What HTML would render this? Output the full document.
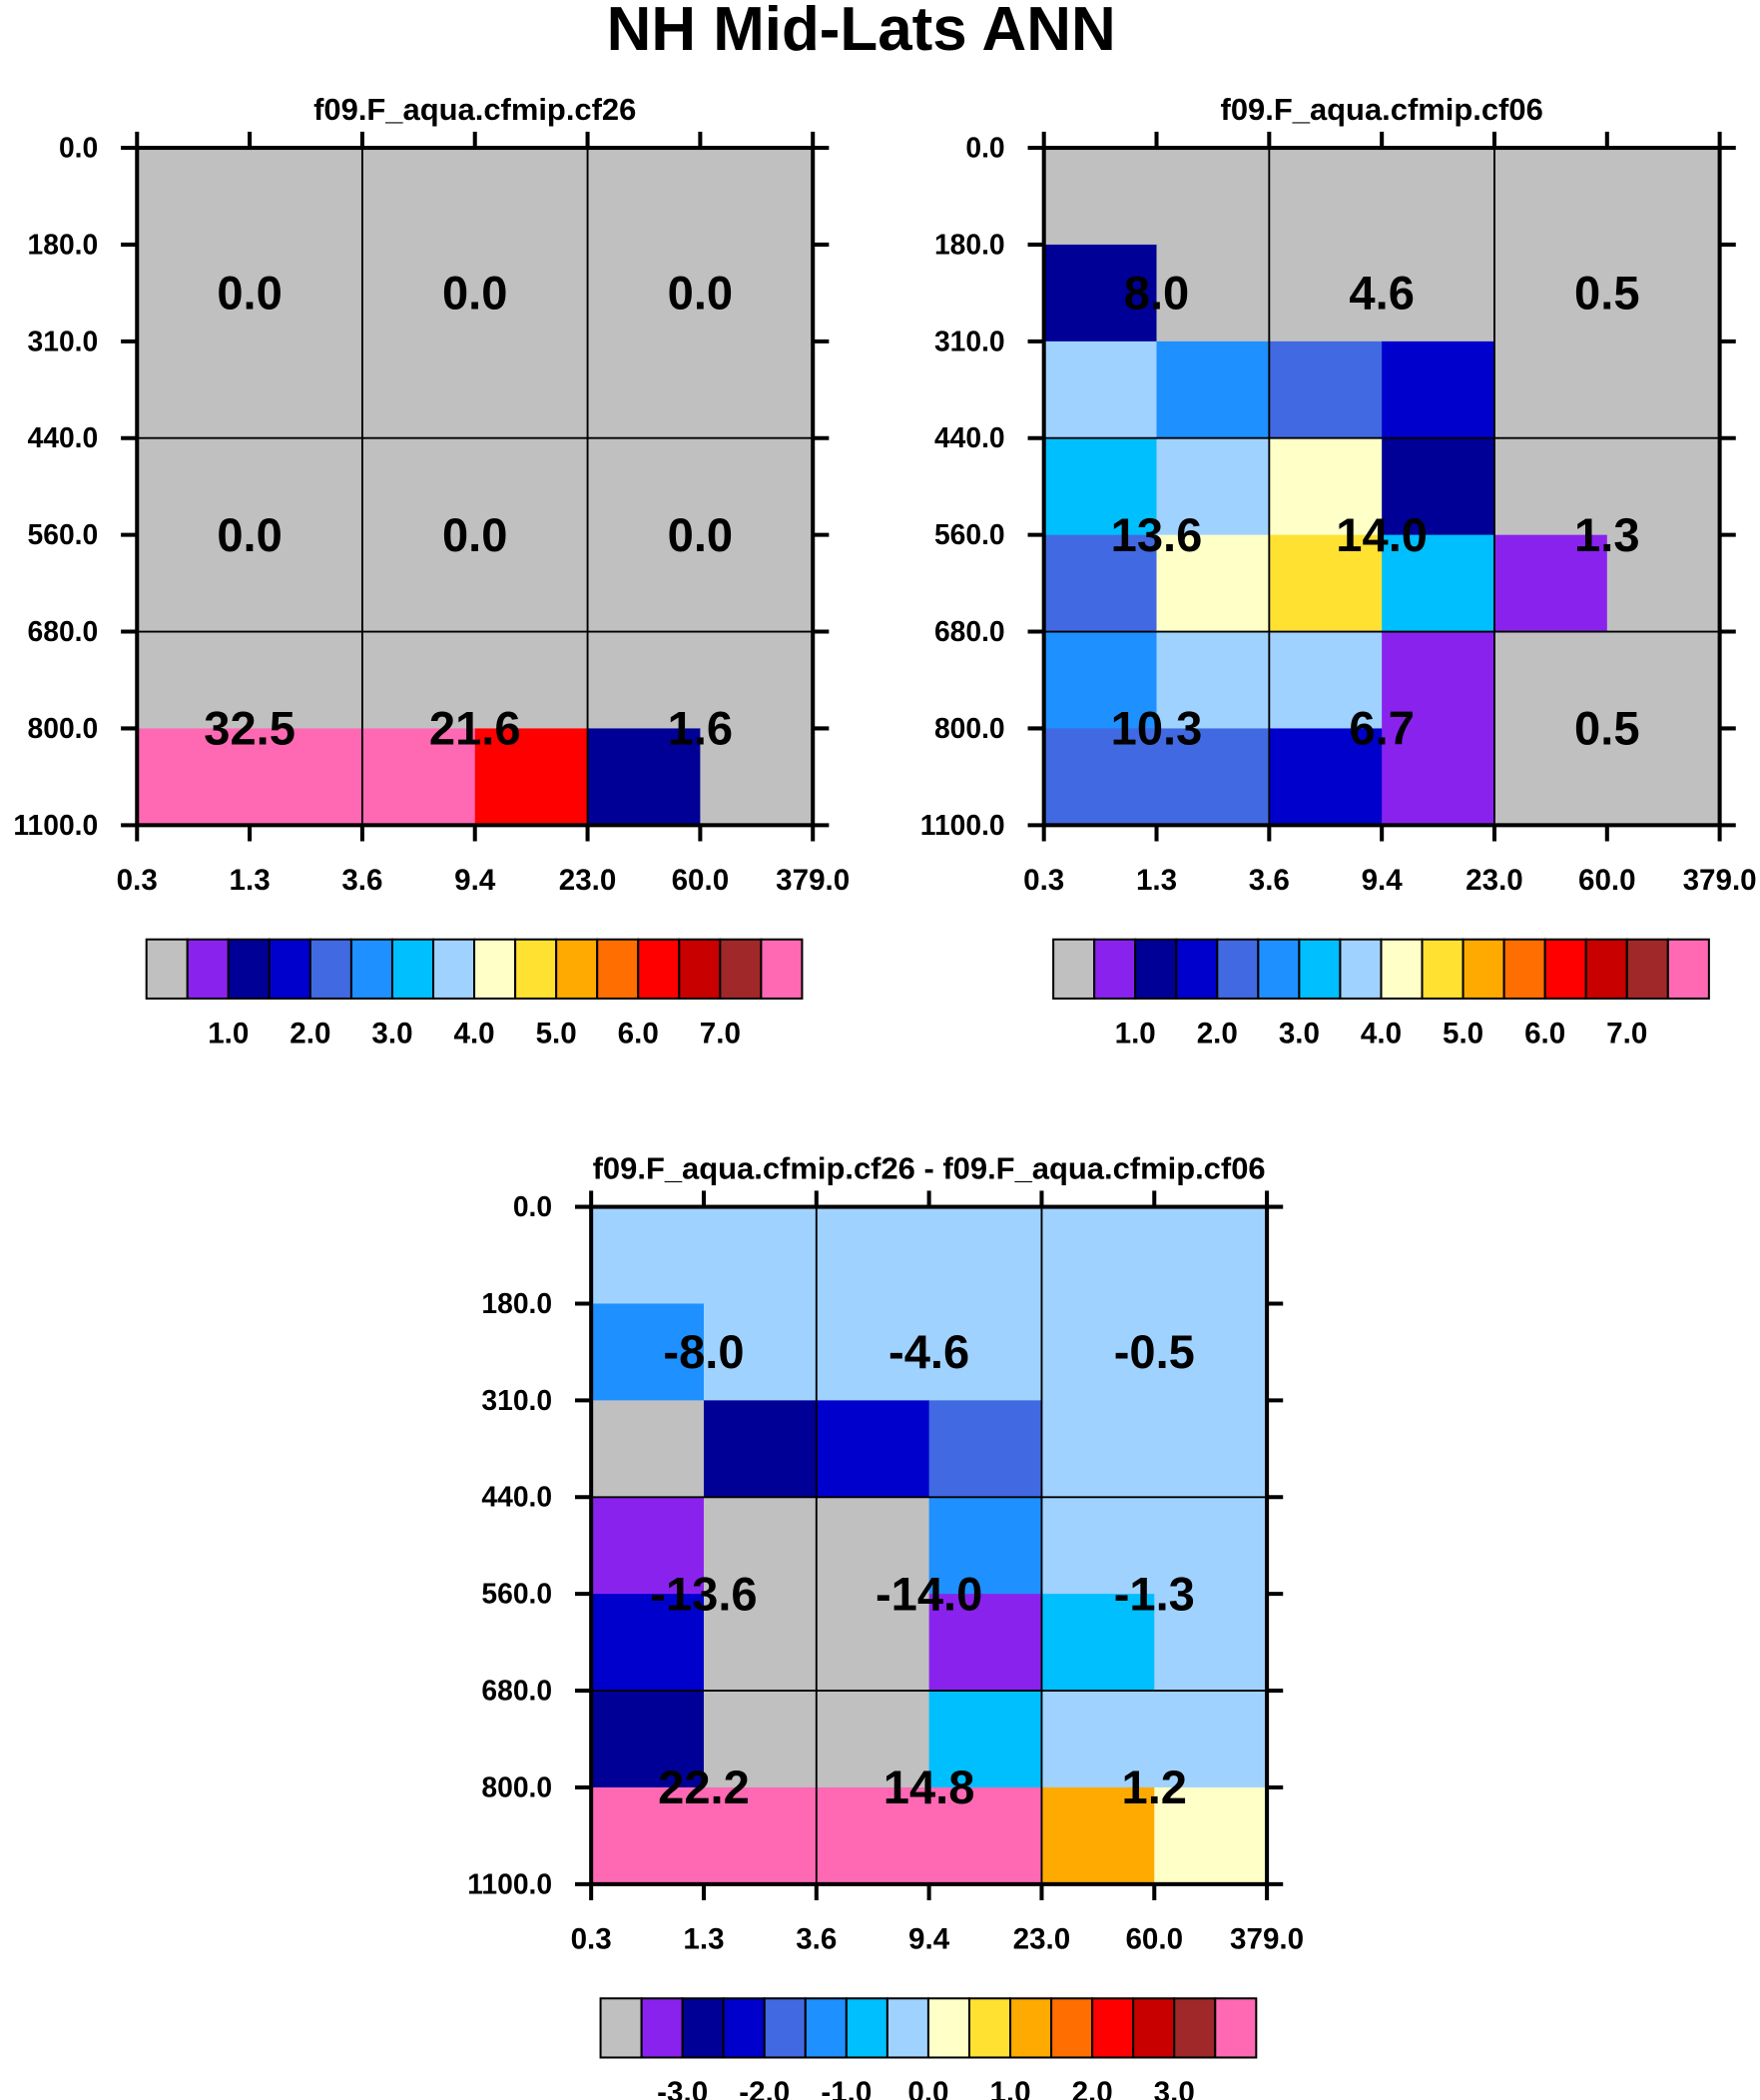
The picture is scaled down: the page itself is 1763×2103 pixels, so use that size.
<!DOCTYPE html>
<html><head><meta charset="utf-8"><style>
html,body{margin:0;padding:0;background:#fff;}
svg{display:block;font-family:"Liberation Sans",sans-serif;font-weight:bold;}
</style></head><body>
<svg id="fig" width="1763" height="2103" viewBox="0 0 1310 1562.6" preserveAspectRatio="none" xmlns="http://www.w3.org/2000/svg">
<text x="641" y="37" text-anchor="middle" font-size="46">NH Mid-Lats ANN</text>
</svg>
<script>
const yLabels=["0.0","180.0","310.0","440.0","560.0","680.0","800.0","1100.0"];
const xLabels=["0.3","1.3","3.6","9.4","23.0","60.0","379.0"];
const palette=["#c0c0c0","#8a22ee","#000096","#0000cd","#4169e1","#1e90ff","#00bfff","#a0d2ff","#ffffc8","#ffe132","#ffaa00","#ff6e00","#ff0000","#c80000","#a02828","#ff69b4"];
const barLabelsA=["1.0","2.0","3.0","4.0","5.0","6.0","7.0"];
const barLabelsB=["-3.0","-2.0","-1.0","0.0","1.0","2.0","3.0"];
const vals1=[[0,0,0,0,0,0],[0,0,0,0,0,0],[0,0,0,0,0,0],[0,0,0,0,0,0],[0,0,0,0,0,0],[0,0,0,0,0,0],[8,8,8,6.2,1.2,0]];
const vals2=[[0,0,0,0,0,0],[1.2,0,0,0,0,0],[3.7,2.7,2.2,1.7,0,0],[3.2,3.7,4.2,1.2,0,0],[2.2,4.2,4.7,3.2,0.7,0],[2.7,3.7,3.7,0.7,0,0],[2.2,2.2,1.7,0.7,0,0]];
const vals3=[[-0.3,-0.3,-0.3,-0.3,-0.3,-0.3],[-1.3,-0.3,-0.3,-0.3,-0.3,-0.3],[-3.8,-2.8,-2.3,-1.8,-0.3,-0.3],[-3.3,-3.8,-3.8,-1.3,-0.3,-0.3],[-2.3,-3.8,-3.8,-3.3,-0.8,-0.3],[-2.8,-3.8,-3.8,-0.8,-0.3,-0.3],[4,4,4,4,1.2,0.2]];
const ann1=["0.0","0.0","0.0","0.0","0.0","0.0","32.5","21.6","1.6"];
const ann2=["8.0","4.6","0.5","13.6","14.0","1.3","10.3","6.7","0.5"];
const ann3=["-8.0","-4.6","-0.5","-13.6","-14.0","-1.3","22.2","14.8","1.2"];
const NS="http://www.w3.org/2000/svg";
const svg=document.getElementById('fig');
function mk(tag,attrs,parent){const e=document.createElementNS(NS,tag);for(const k in attrs)e.setAttribute(k,attrs[k]);(parent||svg).appendChild(e);return e;}
function panel(name,x0,y0,vals,anns,title,lo,barLabels,barY){
  const g=mk('g',{});
  
  
  const W=503,H=504,nc=6,nr=7,cw=W/nc,rh=H/nr;
  const xs=i=>x0+i*cw, ys=j=>y0+j*rh;
  const bin=v=>Math.max(0,Math.min(15,Math.floor((v-lo)/0.5)));
  for(let r=0;r<nr;r++)for(let c=0;c<nc;c++){
    const rc=mk('rect',{x:xs(c),y:ys(r),width:cw+0.5,height:rh+0.5,fill:palette[bin(vals[r][c])]},g);
    
    
  }
  [2,4].forEach(i=>{mk('line',{x1:xs(i),x2:xs(i),y1:y0,y2:y0+H,stroke:'#000','stroke-width':1.4},g);});
  [3,5].forEach(j=>{mk('line',{x1:x0,x2:x0+W,y1:ys(j),y2:ys(j),stroke:'#000','stroke-width':1.4},g);});
  mk('rect',{x:x0,y:y0,width:W,height:H,fill:'none',stroke:'#000','stroke-width':3},g);
  yLabels.forEach((l,j)=>{
    mk('line',{x1:x0-12,x2:x0,y1:ys(j),y2:ys(j),stroke:'#000','stroke-width':3},g);
    mk('line',{x1:x0+W,x2:x0+W+12,y1:ys(j),y2:ys(j),stroke:'#000','stroke-width':3},g);
    const t=mk('text',{x:x0-29,y:ys(j)+7,'text-anchor':'end','font-size':21},g);t.textContent=l;
    
    
  });
  xLabels.forEach((l,i)=>{
    mk('line',{x1:xs(i),x2:xs(i),y1:y0-12,y2:y0,stroke:'#000','stroke-width':3},g);
    mk('line',{x1:xs(i),x2:xs(i),y1:y0+H,y2:y0+H+12,stroke:'#000','stroke-width':3},g);
    const t=mk('text',{x:xs(i),y:y0+H+48,'text-anchor':'middle','font-size':22},g);t.textContent=l;
    
    
  });
  const ay=[ys(1.5),ys(4),ys(6)];
  anns.forEach((a,k)=>{
    const t=mk('text',{x:xs(1+2*(k%3)),y:ay[Math.floor(k/3)]+12,'text-anchor':'middle','font-size':35},g);t.textContent=a;
    
    
  });
  const tt=mk('text',{x:x0+W/2,y:y0-21,'text-anchor':'middle','font-size':23},g);tt.textContent=title;
  
  
  const bx=x0+7,bw=488/16;
  palette.forEach((col,k)=>{
    const b=mk('rect',{x:bx+k*bw,y:barY,width:bw,height:44,fill:col,stroke:'#000','stroke-width':1.5},g);
    
    
  });
  barLabels.forEach((l,k)=>{
    const t=mk('text',{x:bx+(2*k+2)*bw,y:barY+77,'text-anchor':'middle','font-size':22},g);t.textContent=l;
    
    
  });
}
panel('panel-cf26',102,110,vals1,ann1,'f09.F_aqua.cfmip.cf26',0,barLabelsA,699);
panel('panel-cf06',777,110,vals2,ann2,'f09.F_aqua.cfmip.cf06',0,barLabelsA,699);
panel('panel-difference',440,898,vals3,ann3,'f09.F_aqua.cfmip.cf26 - f09.F_aqua.cfmip.cf06',-4,barLabelsB,1487);
</script>
</body></html>
